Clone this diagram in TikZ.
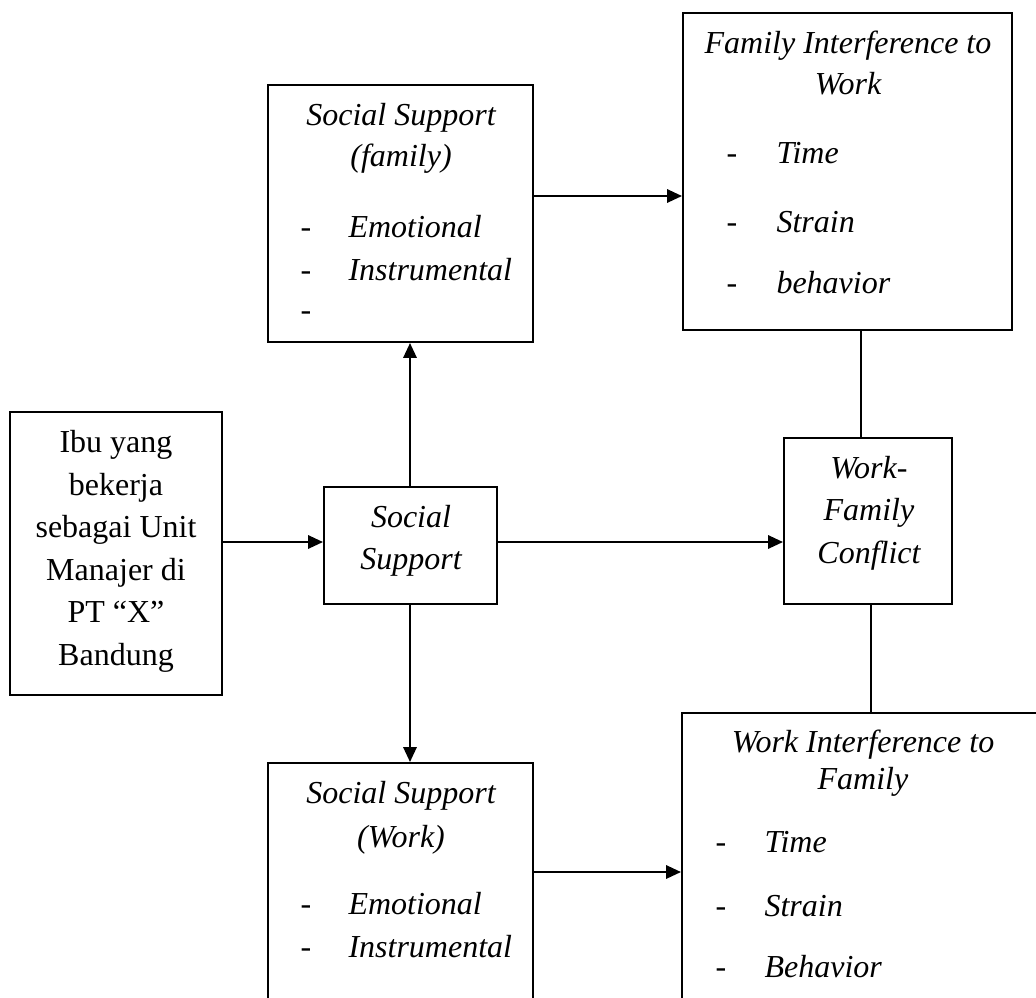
\documentclass[tikz,border=0pt]{standalone}
\usepackage{fontspec}
\setmainfont{Liberation Serif}
\usetikzlibrary{arrows.meta,fit}
\begin{document}
\begin{tikzpicture}[x=0.375pt,y=-0.375pt,
  box/.style={draw,line width=0.75pt,inner sep=0pt,rectangle},
  arr/.style={line width=0.8pt,-{Triangle[length=5.6pt,width=5pt]}},
  conn/.style={line width=0.75pt},
  txt/.style={anchor=base,inner sep=0pt,font=\fontsize{12}{14}\selectfont},
  itx/.style={anchor=base,inner sep=0pt,font=\fontsize{12}{14}\selectfont\itshape},
  dashl/.style={txt,anchor=base west},
  item/.style={itx,anchor=base west}]
\useasboundingbox (0,0) rectangle (1036,997);
\clip (0,0) rectangle (1036,997);
\fill[white] (0,0) rectangle (1036,997);

% boxes
\node[box, fit={(10,412) (222,695)}] (ibu) {};
\node[box, fit={(324,487) (497,604)}] (ss) {};
\node[box, fit={(268,85) (533,342)}] (ssf) {};
\node[box, fit={(268,763) (533,1020)}] (ssw) {};
\node[box, fit={(683,13) (1012,330)}] (fiw) {};
\node[box, fit={(784,438) (952,604)}] (wfc) {};
\node[box, fit={(682,713) (1044,1020)}] (wif) {};

% Ibu box text
\node[txt] (ibu1) at (116,452) {Ibu yang};
\node[txt] (ibu2) at (116,495) {bekerja};
\node[txt] (ibu3) at (116,537) {sebagai Unit};
\node[txt] (ibu4) at (116,580) {Manajer di};
\node[txt] (ibu5) at (116,622) {PT “X”};
\node[txt] (ibu6) at (116,665) {Bandung};

% Social Support
\node[itx] (ss1) at (411,527) {Social};
\node[itx] (ss2) at (411,569) {Support};

% Social Support (family)
\node[itx] (ssf1) at (401,125) {Social Support};
\node[itx] (ssf2) at (401,166) {(family)};
\node[dashl] (ssfd1) at (300,237) {-};
\node[item] (ssfi1) at (348,237) {Emotional};
\node[dashl] (ssfd2) at (300,280) {-};
\node[item] (ssfi2) at (348,280) {Instrumental};
\node[dashl] (ssfd3) at (300,320) {-};

% Family Interference to Work
\node[itx] (fiw1) at (848,53) {Family Interference to};
\node[itx] (fiw2) at (848,94) {Work};
\node[dashl] (fiwd1) at (726,163) {-};
\node[item] (fiwi1) at (776,163) {Time};
\node[dashl] (fiwd2) at (726,232) {-};
\node[item] (fiwi2) at (776,232) {Strain};
\node[dashl] (fiwd3) at (726,293) {-};
\node[item] (fiwi3) at (776,293) {behavior};

% Work-Family Conflict
\node[itx] (wfc1) at (869,478) {Work-};
\node[itx] (wfc2) at (869,520) {Family};
\node[itx] (wfc3) at (869,563) {Conflict};

% Social Support (Work)
\node[itx] (ssw1) at (401,803) {Social Support};
\node[itx] (ssw2) at (401,847) {(Work)};
\node[dashl] (sswd1) at (300,914) {-};
\node[item] (sswi1) at (348,914) {Emotional};
\node[dashl] (sswd2) at (300,957) {-};
\node[item] (sswi2) at (348,957) {Instrumental};

% Work Interference to Family
\node[itx] (wif1) at (863,752) {Work Interference to};
\node[itx] (wif2) at (863,789) {Family};
\node[dashl] (wifd1) at (715,852) {-};
\node[item] (wifi1) at (764,852) {Time};
\node[dashl] (wifd2) at (715,916) {-};
\node[item] (wifi2) at (764,916) {Strain};
\node[dashl] (wifd3) at (715,977) {-};
\node[item] (wifi3) at (764,977) {Behavior};

% helper coordinates
\coordinate (ya) at (0,542);
\coordinate (yb) at (0,196);
\coordinate (yc) at (0,872);
\coordinate (xs) at (410,0);
\coordinate (xa) at (861,0);
\coordinate (xb) at (871,0);

% connectors
\draw[arr] (ibu.east |- ya) -- (ss.west |- ya);
\draw[arr] (ss.east |- ya) -- (wfc.west |- ya);
\draw[arr] (ss.north -| xs) -- (ssf.south -| xs);
\draw[arr] (ss.south -| xs) -- (ssw.north -| xs);
\draw[arr] (ssf.east |- yb) -- (fiw.west |- yb);
\draw[arr] (ssw.east |- yc) -- (wif.west |- yc);
\draw[conn] (fiw.south -| xa) -- (wfc.north -| xa);
\draw[conn] (wfc.south -| xb) -- (wif.north -| xb);
\end{tikzpicture}
\end{document}
